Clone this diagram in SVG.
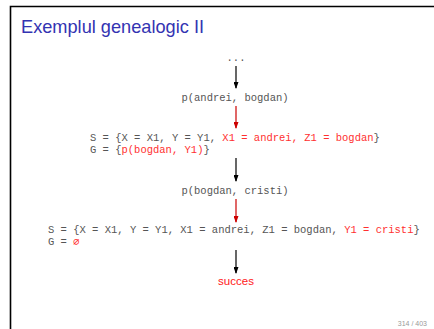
<svg xmlns="http://www.w3.org/2000/svg" width="434" height="329" viewBox="0 0 434 329">
<style>
.mono{font-family:"Liberation Mono","Courier New",monospace;font-size:10.5px;fill:#555}
.r{fill:#ff3030}
.title{font-family:"Liberation Sans",Arial,sans-serif;font-size:18.2px;fill:#3333b2}
.ln{stroke-width:1.2;fill:none}
</style>
<defs>
<marker id="ahk" markerWidth="7" markerHeight="5" refX="6" refY="2.5" orient="auto" markerUnits="userSpaceOnUse"><path d="M0,0 L7,2.5 L0,5 z" fill="#000"/></marker>
<marker id="ahr" markerWidth="7" markerHeight="5" refX="6" refY="2.5" orient="auto" markerUnits="userSpaceOnUse"><path d="M0,0 L7,2.5 L0,5 z" fill="#cc0000"/></marker>
</defs>
<rect width="434" height="329" fill="#fff"/>
<path d="M10.5,329 V6.5 H434" stroke="#000" stroke-width="1.6" fill="none"/>
<text class="title" x="21" y="33">Exemplul genealogic II</text>
<g id="dots"><text class="mono" x="236" y="61" text-anchor="middle">...</text></g>
<g id="goal1"><text class="mono" x="235" y="101" text-anchor="middle">p(andrei, bogdan)</text></g>
<g id="state1"><text class="mono" x="90" y="141">S = {X = X1, Y = Y1, <tspan class="r">X1 = andrei, Z1 = bogdan</tspan>}</text><text class="mono" x="90" y="153">G = {<tspan class="r">p(bogdan, Y1)</tspan>}</text></g>
<g id="goal2"><text class="mono" x="235" y="194" text-anchor="middle">p(bogdan, cristi)</text></g>
<g id="state2"><text class="mono" x="48" y="233">S = {X = X1, Y = Y1, X1 = andrei, Z1 = bogdan, <tspan class="r">Y1 = cristi</tspan>}</text><text class="mono" x="48" y="245">G = <tspan class="r">∅</tspan></text></g>
<g id="result"><text x="236" y="285" text-anchor="middle" font-family="Liberation Sans, Arial, sans-serif" font-size="11.5" fill="#ff2020">succes</text></g>
<g id="connectors">
<line class="ln" x1="236" y1="66" x2="236" y2="88" stroke="#000" marker-end="url(#ahk)"/>
<line class="ln" x1="236" y1="106" x2="236" y2="128" stroke="#cc0000" marker-end="url(#ahr)"/>
<line class="ln" x1="236" y1="158" x2="236" y2="181" stroke="#000" marker-end="url(#ahk)"/>
<line class="ln" x1="236" y1="199" x2="236" y2="222" stroke="#cc0000" marker-end="url(#ahr)"/>
<line class="ln" x1="236" y1="250" x2="236" y2="273" stroke="#000" marker-end="url(#ahk)"/>
</g>
<text x="427" y="326" text-anchor="end" font-family="Liberation Sans, Arial, sans-serif" font-size="7" fill="#999">314 / 403</text>
</svg>
